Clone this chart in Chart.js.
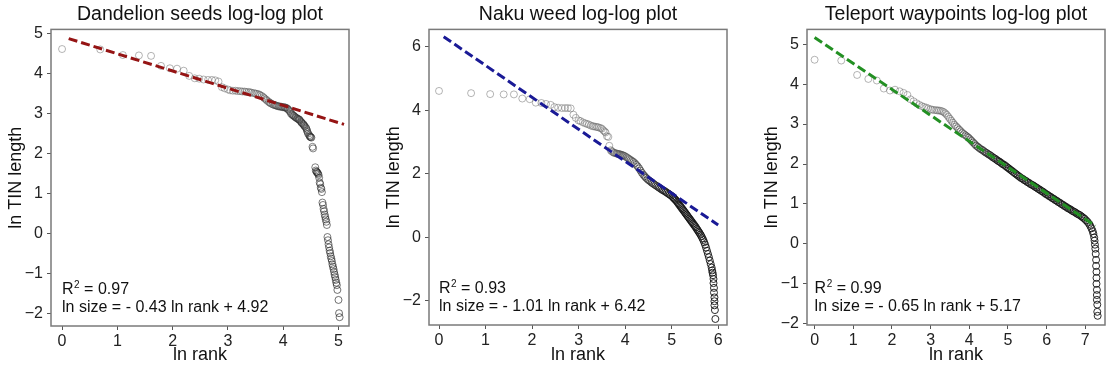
<!DOCTYPE html>
<html>
<head>
<meta charset="utf-8">
<script src="https://cdn.jsdelivr.net/npm/chart.js@4.4.1/dist/chart.umd.min.js"></script>
<style>
  html, body { margin: 0; padding: 0; background: #fff; }
  #wrap { position: relative; width: 1118px; height: 368px; overflow: hidden; }
  canvas { position: absolute; top: 0; }
</style>
</head>
<body>
<div id="wrap">
  <canvas id="c1" width="373" height="368" style="left:0px"></canvas>
  <canvas id="c2" width="373" height="368" style="left:373px"></canvas>
  <canvas id="c3" width="372" height="368" style="left:746px"></canvas>
</div>
<script>
// ---- data: [ln rank, ln TIN length] ----
const dandelionPoints = [
  [0.00,4.61],[0.69,4.60],[1.10,4.46],[1.39,4.45],[1.61,4.44],[1.79,4.19],[1.95,4.13],[2.08,4.12],
  [2.20,4.07],[2.30,3.94],[2.40,3.88],[2.48,3.87],[2.56,3.85],[2.64,3.84],[2.71,3.84],[2.77,3.83],
  [2.83,3.80],[2.89,3.66],[2.94,3.63],[3.00,3.60],[3.04,3.58],[3.09,3.57],[3.14,3.57],[3.18,3.56],
  [3.22,3.56],[3.26,3.55],[3.30,3.55],[3.33,3.54],[3.37,3.54],[3.40,3.53],[3.43,3.52],[3.47,3.51],
  [3.50,3.50],[3.53,3.49],[3.56,3.48],[3.58,3.46],[3.61,3.44],[3.64,3.41],[3.66,3.38],[3.69,3.35],
  [3.71,3.32],[3.74,3.29],[3.76,3.27],[3.78,3.25],[3.81,3.23],[3.83,3.22],[3.85,3.21],[3.87,3.20],
  [3.89,3.19],[3.91,3.18],[3.93,3.18],[3.95,3.17],[3.97,3.17],[3.99,3.16],[4.01,3.16],[4.03,3.15],
  [4.04,3.15],[4.06,3.14],[4.08,3.12],[4.09,3.10],[4.11,3.07],[4.13,3.04],[4.14,3.00],[4.16,2.98],
  [4.17,2.96],[4.19,2.95],[4.20,2.93],[4.22,2.91],[4.23,2.90],[4.25,2.88],[4.26,2.87],[4.28,2.86],
  [4.29,2.85],[4.30,2.83],[4.32,2.80],[4.33,2.78],[4.34,2.76],[4.36,2.74],[4.37,2.72],[4.38,2.70],
  [4.39,2.68],[4.41,2.65],[4.42,2.62],[4.43,2.58],[4.44,2.54],[4.45,2.50],[4.47,2.46],[4.48,2.43],
  [4.49,2.42],[4.50,2.41],[4.51,2.40],[4.53,2.17],[4.54,2.13],[4.58,1.66],[4.59,1.58],[4.60,1.55],
  [4.61,1.54],[4.62,1.52],[4.63,1.50],[4.64,1.47],[4.65,1.40],[4.66,1.28],[4.67,1.24],[4.68,1.15],
  [4.69,1.12],[4.70,1.04],[4.71,0.78],[4.72,0.72],[4.73,0.62],[4.74,0.56],[4.75,0.48],[4.76,0.42],
  [4.77,0.36],[4.78,0.30],[4.79,0.22],[4.80,-0.08],[4.81,-0.16],[4.82,-0.26],[4.83,-0.34],[4.84,-0.42],
  [4.85,-0.48],[4.86,-0.56],[4.87,-0.62],[4.88,-0.68],[4.89,-0.76],[4.90,-0.82],[4.91,-0.88],[4.92,-0.95],
  [4.93,-1.02],[4.94,-1.08],[4.95,-1.15],[4.96,-1.22],[4.97,-1.28],[4.98,-1.40],[5.00,-1.65],[5.01,-1.98],
  [5.02,-2.08]
];

const nakuPoints = [
  [0.00,4.61],[0.69,4.54],[1.10,4.51],[1.39,4.50],[1.61,4.50],[1.79,4.37],[1.95,4.35],[2.08,4.24],
  [2.20,4.23],[2.30,4.20],[2.40,4.17],[2.48,4.10],[2.56,4.08],[2.64,4.07],[2.71,4.07],[2.77,4.07],
  [2.83,4.06],[2.89,3.86],[2.94,3.76],[3.00,3.68],[3.04,3.66],[3.09,3.62],[3.14,3.59],[3.18,3.57],
  [3.22,3.55],[3.26,3.52],[3.30,3.50],[3.33,3.49],[3.37,3.48],[3.40,3.47],[3.43,3.46],[3.47,3.44],
  [3.50,3.42],[3.53,3.37],[3.56,3.33],[3.58,3.30],[3.61,3.18],[3.64,3.16],[3.66,2.88],[3.69,2.74],
  [3.71,2.71],[3.74,2.68],[3.76,2.66],[3.78,2.65],[3.81,2.64],[3.83,2.63],[3.85,2.62],[3.87,2.62],
  [3.89,2.61],[3.91,2.60],[3.93,2.59],[3.95,2.58],[3.97,2.57],[4.00,2.55],[4.03,2.52],[4.06,2.49],
  [4.09,2.46],[4.12,2.43],[4.15,2.40],[4.18,2.37],[4.21,2.33],[4.24,2.28],[4.27,2.23],[4.30,2.17],
  [4.33,2.10],[4.36,2.03],[4.39,1.97],[4.42,1.92],[4.45,1.87],[4.48,1.83],[4.51,1.79],[4.54,1.76],
  [4.57,1.72],[4.60,1.69],[4.63,1.66],[4.66,1.63],[4.69,1.60],[4.72,1.57],[4.75,1.54],[4.78,1.51],
  [4.81,1.48],[4.84,1.46],[4.87,1.43],[4.90,1.40],[4.93,1.37],[4.96,1.34],[4.99,1.31],[5.02,1.27],
  [5.04,1.24],[5.06,1.21],[5.08,1.18],[5.10,1.15],[5.12,1.11],[5.14,1.07],[5.16,1.03],[5.18,0.99],
  [5.20,0.95],[5.22,0.91],[5.24,0.87],[5.26,0.83],[5.28,0.79],[5.30,0.75],[5.32,0.71],[5.34,0.67],
  [5.36,0.63],[5.38,0.59],[5.40,0.55],[5.42,0.51],[5.44,0.47],[5.46,0.43],[5.48,0.39],[5.50,0.35],
  [5.52,0.31],[5.54,0.26],[5.56,0.22],[5.58,0.17],[5.60,0.13],[5.62,0.08],[5.64,0.03],[5.66,-0.03],
  [5.68,-0.09],[5.70,-0.16],[5.72,-0.24],[5.74,-0.33],[5.76,-0.43],[5.78,-0.53],[5.80,-0.63],[5.82,-0.74],
  [5.84,-0.85],[5.86,-0.96],[5.87,-1.05],[5.88,-1.12],[5.89,-1.20],[5.90,-1.32],[5.90,-1.45],[5.91,-1.60],
  [5.91,-1.75],[5.92,-1.90],[5.92,-2.02],[5.92,-2.15],[5.93,-2.30],[5.94,-2.58]
];

const teleportPoints = [
  [0.00,4.61],[0.69,4.59],[1.10,4.23],[1.39,4.13],[1.61,4.09],[1.79,3.89],[1.95,3.84],[2.08,3.86],
  [2.20,3.82],[2.30,3.78],[2.40,3.73],[2.48,3.62],[2.56,3.57],[2.64,3.52],[2.71,3.48],[2.77,3.45],
  [2.83,3.43],[2.89,3.41],[2.94,3.39],[3.00,3.37],[3.04,3.36],[3.09,3.35],[3.14,3.35],[3.18,3.34],
  [3.22,3.34],[3.26,3.33],[3.30,3.32],[3.34,3.30],[3.38,3.27],[3.42,3.23],[3.46,3.18],[3.50,3.13],
  [3.54,3.08],[3.58,3.03],[3.62,2.98],[3.66,2.94],[3.70,2.90],[3.74,2.86],[3.78,2.82],[3.82,2.78],
  [3.86,2.75],[3.90,2.72],[3.94,2.69],[3.98,2.66],[4.02,2.62],[4.06,2.58],[4.10,2.54],[4.14,2.50],
  [4.18,2.46],[4.22,2.43],[4.26,2.40],[4.30,2.37],[4.34,2.35],[4.38,2.32],[4.42,2.29],[4.46,2.27],
  [4.50,2.24],[4.54,2.22],[4.58,2.19],[4.62,2.16],[4.66,2.14],[4.70,2.11],[4.74,2.08],[4.78,2.06],
  [4.82,2.03],[4.86,2.00],[4.90,1.98],[4.94,1.95],[4.98,1.92],[5.02,1.89],[5.06,1.86],[5.10,1.83],
  [5.14,1.80],[5.18,1.77],[5.22,1.74],[5.26,1.71],[5.30,1.68],[5.34,1.65],[5.38,1.63],[5.42,1.60],
  [5.46,1.58],[5.50,1.55],[5.54,1.53],[5.58,1.50],[5.62,1.48],[5.66,1.46],[5.70,1.43],[5.74,1.41],
  [5.78,1.38],[5.82,1.36],[5.86,1.33],[5.90,1.31],[5.94,1.28],[5.98,1.25],[6.02,1.23],[6.06,1.20],
  [6.10,1.18],[6.14,1.15],[6.18,1.13],[6.22,1.10],[6.26,1.08],[6.30,1.05],[6.34,1.03],[6.38,1.00],
  [6.42,0.98],[6.46,0.95],[6.50,0.93],[6.54,0.90],[6.58,0.88],[6.62,0.86],[6.66,0.83],[6.70,0.81],
  [6.74,0.79],[6.78,0.76],[6.82,0.74],[6.86,0.72],[6.90,0.69],[6.94,0.66],[6.98,0.63],[7.02,0.59],
  [7.06,0.55],[7.10,0.50],[7.13,0.45],[7.16,0.39],[7.19,0.32],[7.21,0.25],[7.23,0.16],[7.24,0.08],
  [7.25,-0.02],[7.26,-0.12],[7.27,-0.25],[7.28,-0.40],[7.28,-0.55],[7.29,-0.70],[7.29,-0.85],[7.29,-1.00],
  [7.30,-1.15],[7.30,-1.28],[7.30,-1.40],[7.31,-1.52],[7.31,-1.70],[7.32,-1.80]
];

// fitted lines, end points as drawn
const dandelionFit = [[0.12,4.87],[5.10,2.73]];
const nakuFit = [[0.10,6.32],[6.00,0.38]];
const teleportFit = [[0.00,5.17],[7.26,0.45]];

// tick values
const dandelionXTicks = [0,1,2,3,4,5];
const dandelionYTicks = [-2,-1,0,1,2,3,4,5];
const nakuXTicks = [0,1,2,3,4,5,6];
const nakuYTicks = [-2,0,2,4,6];
const teleportXTicks = [0,1,2,3,4,5,6,7];
const teleportYTicks = [-2,-1,0,1,2,3,4,5];

const titles = ['Dandelion seeds log-log plot', 'Naku weed log-log plot', 'Teleport waypoints log-log plot'];
const rSquared = ['0.97', '0.93', '0.99'];
const fitText = ['ln size = - 0.43 ln rank + 4.92', 'ln size = - 1.01 ln rank + 6.42', 'ln size = - 0.65 ln rank + 5.17'];

const FONT = '"Liberation Sans", Arial, Helvetica, sans-serif';

// full box around the plot area
const framePlugin = {
    id: 'frame',
    afterDraw(chart) {
        const a = chart.chartArea, ctx = chart.ctx;
        ctx.save();
        ctx.strokeStyle = '#7a7a7a';
        ctx.lineWidth = 1.5;
        ctx.strokeRect(a.left, a.top, a.right - a.left, a.bottom - a.top);
        ctx.restore();
    }
};

// R² and equation text in the lower left
const notePlugin = {
    id: 'note',
    afterDraw(chart, args, opts) {
        const ctx = chart.ctx, a = chart.chartArea;
        const x0 = chart.scales.x.getPixelForValue(0);
        ctx.save();
        ctx.fillStyle = '#111';
        ctx.textBaseline = 'alphabetic';
        ctx.textAlign = 'left';
        ctx.font = '16px ' + FONT;
        const y1 = a.bottom - 32, y2 = a.bottom - 14;
        ctx.fillText('R', x0, y1);
        let w = ctx.measureText('R').width;
        ctx.font = '10px ' + FONT;
        ctx.fillText('2', x0 + w + 0.5, y1 - 6);
        w += ctx.measureText('2').width + 0.5;
        ctx.font = '16px ' + FONT;
        ctx.fillText(' = ' + opts.r2, x0 + w, y1);
        ctx.fillText(opts.eq, x0, y2);
        ctx.restore();
    }
};

const fmtTick = v => String(v).replace('-', '\u2212');

// marker outline gets darker where the real points pile up
function markerColor(p) {
    return c => {
        const x = c.raw ? c.raw.x : 0;
        const t = Math.max(0, Math.min(1, (x - p.darkFrom) / (p.darkTo - p.darkFrom)));
        const a = p.alphaLo + (p.alphaHi - p.alphaLo) * t;
        const g = Math.round(90 - 70 * t);
        return 'rgba(' + g + ',' + g + ',' + g + ',' + a.toFixed(2) + ')';
    };
}

function makePanel(id, p) {
    const ctx = document.getElementById(id).getContext('2d');
    return new Chart(ctx, {
        type: 'scatter',
        data: {
            datasets: [{
                // fit line first so it is drawn on top of the markers
                data: p.fit.map(d => ({ x: d[0], y: d[1] })),
                showLine: true,
                borderColor: p.color,
                borderWidth: 3,
                borderDash: [9, 4],
                pointRadius: 0
            }, {
                data: p.points.map(d => ({ x: d[0], y: d[1] })),
                pointRadius: 3.5,
                pointBorderWidth: 1,
                pointBackgroundColor: 'rgba(0,0,0,0)',
                pointBorderColor: markerColor(p)
            }]
        },
        options: {
            responsive: false,
            animation: false,
            layout: { padding: { left: 0, right: p.padRight, top: 0, bottom: 0 } },
            plugins: {
                legend: { display: false },
                tooltip: { enabled: false },
                title: {
                    display: true,
                    text: p.title,
                    fullSize: false,
                    color: '#111',
                    font: { size: 19.5, family: FONT, weight: 'normal' },
                    padding: { top: 3, bottom: 3 }
                },
                note: { r2: p.r2, eq: p.eq }
            },
            scales: {
                x: {
                    type: 'linear',
                    min: p.xMin, max: p.xMax,
                    afterBuildTicks: s => { s.ticks = p.xTicks.map(v => ({ value: v })); },
                    afterFit: s => { s.height = p.xAxisH; },
                    border: { display: false },
                    grid: { drawOnChartArea: false, tickLength: 4, color: '#555' },
                    ticks: { color: '#222', font: { size: 16, family: FONT }, padding: 2, maxRotation: 0, autoSkip: false, callback: fmtTick },
                    title: { display: true, text: 'ln rank', color: '#111', font: { size: 18, family: FONT }, padding: { top: 0, bottom: 2 } }
                },
                y: {
                    type: 'linear',
                    min: p.yMin, max: p.yMax,
                    afterBuildTicks: s => { s.ticks = p.yTicks.map(v => ({ value: v })); },
                    afterFit: s => { s.width = p.yAxisW; },
                    border: { display: false },
                    grid: { drawOnChartArea: false, tickLength: 4, color: '#555' },
                    ticks: { color: '#222', font: { size: 16, family: FONT }, padding: 4, autoSkip: false, callback: fmtTick },
                    title: { display: true, text: 'ln TIN length', color: '#111', font: { size: 18, family: FONT }, padding: { top: p.yTitlePad, bottom: 0 } }
                }
            }
        },
        plugins: [framePlugin, notePlugin]
    });
}

makePanel('c1', {
    points: dandelionPoints, fit: dandelionFit, color: '#951414',
    title: titles[0], r2: rSquared[0], eq: fitText[0],
    xMin: -0.2, xMax: 5.19, yMin: -2.3, yMax: 5.1,
    xTicks: dandelionXTicks, yTicks: dandelionYTicks,
    yAxisW: 51, xAxisH: 42, padRight: 24, yTitlePad: 5,
    darkFrom: 3.0, darkTo: 5.0, alphaLo: 0.45, alphaHi: 0.6
});
makePanel('c2', {
    points: nakuPoints, fit: nakuFit, color: '#1a1a96',
    title: titles[1], r2: rSquared[1], eq: fitText[1],
    xMin: -0.215, xMax: 6.19, yMin: -2.77, yMax: 6.55,
    xTicks: nakuXTicks, yTicks: nakuYTicks,
    yAxisW: 56, xAxisH: 43, padRight: 19, yTitlePad: 10,
    darkFrom: 3.6, darkTo: 5.0, alphaLo: 0.45, alphaHi: 0.9
});
makePanel('c3', {
    points: teleportPoints, fit: teleportFit, color: '#239023',
    title: titles[2], r2: rSquared[2], eq: fitText[2],
    xMin: -0.196, xMax: 7.51, yMin: -2.03, yMax: 5.37,
    xTicks: teleportXTicks, yTicks: teleportYTicks,
    yAxisW: 61, xAxisH: 43, padRight: 13, yTitlePad: 15,
    darkFrom: 3.3, darkTo: 4.8, alphaLo: 0.45, alphaHi: 0.9
});
</script>
</body>
</html>
